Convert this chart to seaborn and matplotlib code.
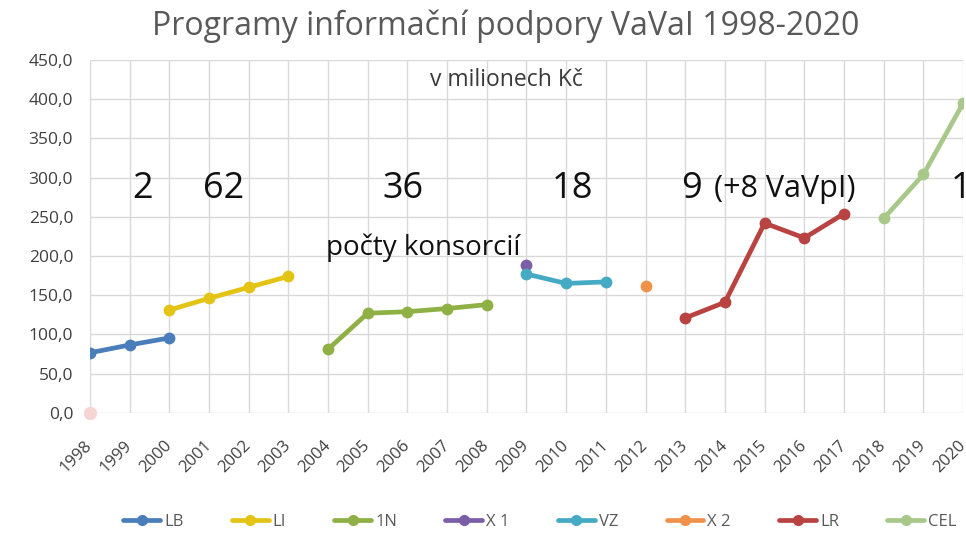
import matplotlib
matplotlib.use("Agg")
import matplotlib.pyplot as plt
import matplotlib.transforms as mtransforms
import seaborn as sns
import pandas as pd
from matplotlib.lines import Line2D
from matplotlib.ticker import FuncFormatter

years_LB = [1998, 1999, 2000]
vals_LB = [76.5, 86.5, 95.5]
years_LI = [2000, 2001, 2002, 2003]
vals_LI = [131, 146, 160, 174]
years_1N = [2004, 2005, 2006, 2007, 2008]
vals_1N = [81, 127, 129, 133, 138]
years_X1 = [2009]
vals_X1 = [189]
years_VZ = [2009, 2010, 2011]
vals_VZ = [177, 165, 167]
years_X2 = [2012]
vals_X2 = [162]
years_LR = [2013, 2014, 2015, 2016, 2017]
vals_LR = [121, 141, 242, 223, 254]
years_CEL = [2018, 2019, 2020]
vals_CEL = [248, 304, 395]
years_zero = [1998]
vals_zero = [0]

series_names = ["LB", "LI", "1N", "X 1", "VZ", "X 2", "LR", "CEL"]
colors = ["#4a7ebb", "#e3c414", "#8fb044", "#7a5ea8", "#45abc4", "#f0914a", "#b84341", "#a8c88a"]
year_ticks = list(range(1998, 2021))

frames = []
for name, ys, vs in [("LB", years_LB, vals_LB), ("LI", years_LI, vals_LI), ("1N", years_1N, vals_1N),
                     ("X 1", years_X1, vals_X1), ("VZ", years_VZ, vals_VZ), ("X 2", years_X2, vals_X2),
                     ("LR", years_LR, vals_LR), ("CEL", years_CEL, vals_CEL)]:
    frames.append(pd.DataFrame({"rok": ys, "hodnota": vs, "program": name}))
df = pd.concat(frames, ignore_index=True)

sns.set_theme(style="white")
plt.rcParams['font.family'] = ['Open Sans', 'DejaVu Sans']

fig = plt.figure(figsize=(9.66, 5.46), dpi=100)
ax = fig.add_axes([0.093, 0.244, 0.904, 0.646])

palette = dict(zip(series_names, colors))
sns.lineplot(data=df, x="rok", y="hodnota", hue="program", hue_order=series_names,
             palette=palette, marker="o", markersize=8.5, linewidth=3.4,
             markeredgewidth=0, legend=False, ax=ax, zorder=3)
ax.plot(years_zero, vals_zero, "o", color="#f6d5d5", markersize=8.5, clip_on=False, zorder=3)

ax.set_xlim(1998, 2020)
ax.set_ylim(0, 450)
ax.set_xticks(year_ticks)
ax.set_xticklabels([str(y) for y in year_ticks], rotation=45, fontsize=12, color="#404040",
                   ha="right", va="center", rotation_mode="anchor")
offset = mtransforms.ScaledTranslation(5 / 100, 0, fig.dpi_scale_trans)
for lbl in ax.get_xticklabels():
    lbl.set_transform(lbl.get_transform() + offset)
ax.set_yticks(range(0, 451, 50))
ax.yaxis.set_major_formatter(FuncFormatter(lambda v, p: f"{v:.1f}".replace(".", ",")))
ax.tick_params(axis="y", labelsize=12.5, labelcolor="#404040", length=0, pad=12)
ax.tick_params(axis="x", length=0, pad=22)
ax.set_xlabel("")
ax.set_ylabel("")
ax.grid(True, color="#d9d9d9", linewidth=1)
for s in ax.spines.values():
    s.set_visible(False)

fig.text(0.523, 0.952, "Programy informační podpory VaVaI 1998-2020", ha="center", va="center",
         fontsize=23, color="#595959")

ax.text(2008.5, 425, "v milionech Kč", ha="center", va="center", fontsize=16.5, color="#3a3a3a")
big = dict(fontsize=26, color="#111111", va="center")
ax.text(1999.33, 285, "2", ha="center", **big)
ax.text(2001.38, 285, "62", ha="center", **big)
ax.text(2005.9, 285, "36", ha="center", **big)
ax.text(2010.17, 285, "18", ha="center", **big)
ax.text(2012.9, 285, "9", ha="left", **big)
ax.text(2013.72, 285, "(+8 VaVpI)", ha="left", fontsize=22, color="#111111", va="center")
ax.text(2019.7, 285, "1", ha="left", clip_on=False, **big)
ax.text(2006.4, 210, "počty konsorcií", ha="center", va="center", fontsize=20, color="#111111")

handles = [Line2D([0], [0], color=c, linewidth=3.4, marker="o", markersize=7) for c in colors]
fig.legend(handles, series_names, loc="center", bbox_to_anchor=(0.559, 0.044), ncol=8,
           frameon=False, fontsize=12, labelcolor="#595959", handlelength=2.2,
           columnspacing=2.9, handletextpad=0.25)

fig.savefig("out.png", dpi=100)
